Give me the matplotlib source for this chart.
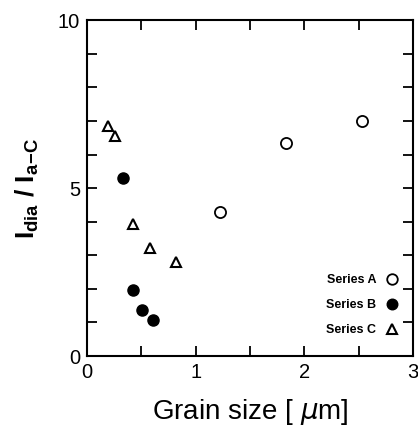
import matplotlib
matplotlib.use('Agg')
import matplotlib.pyplot as plt
from matplotlib.ticker import MultipleLocator

plt.rcParams['font.family'] = ['Liberation Sans', 'DejaVu Sans']
plt.rcParams['mathtext.default'] = 'regular'

# grain size [um] vs intensity ratio
a_x = [1.22, 1.83, 2.53]
a_y = [4.29, 6.35, 7.01]
b_x = [0.33, 0.42, 0.51, 0.61]
b_y = [5.30, 1.98, 1.38, 1.07]
c_x = [0.19, 0.26, 0.42, 0.58, 0.82]
c_y = [6.84, 6.55, 3.93, 3.23, 2.79]
labels = ['Series A', 'Series B', 'Series C']

fig = plt.figure(figsize=(4.18, 4.28), dpi=100)
ax = fig.add_axes([0.208, 0.168, 0.78, 0.785])

ax.plot(a_x, a_y, 'o', mfc='white', mec='black', mew=1.3, ms=8, label=labels[0])
ax.plot(b_x, b_y, 'o', mfc='black', mec='black', ms=8, label=labels[1])
ax.plot(c_x, c_y, '^', mfc='white', mec='black', mew=1.5, ms=7, label=labels[2])

ax.set_xlim(0, 3)
ax.set_ylim(0, 10)
ax.xaxis.set_major_locator(MultipleLocator(1))
ax.xaxis.set_minor_locator(MultipleLocator(0.5))
ax.yaxis.set_major_locator(MultipleLocator(5))
ax.yaxis.set_minor_locator(MultipleLocator(1))
ax.tick_params(which='both', direction='in', top=True, right=True, width=1.3)
ax.tick_params(which='major', length=7, labelsize=14.5, pad=5)
ax.tick_params(which='minor', length=7)
for s in ax.spines.values():
    s.set_linewidth(1.5)

ax.set_xlabel(r'Grain size [ $\mathit{\mu}$m]', fontsize=20, labelpad=11)
ax.set_ylabel(r'I$_{dia}$ / I$_{a\!-\!C}$', fontsize=19, fontweight='bold', labelpad=12)

leg = ax.legend(loc='lower right', frameon=False, markerfirst=False,
                prop={'size': 9, 'weight': 'bold'}, handletextpad=0.3,
                labelspacing=1.05, bbox_to_anchor=(1.01, 0.025), markerscale=0.95)

fig.savefig('out.png', dpi=100)
